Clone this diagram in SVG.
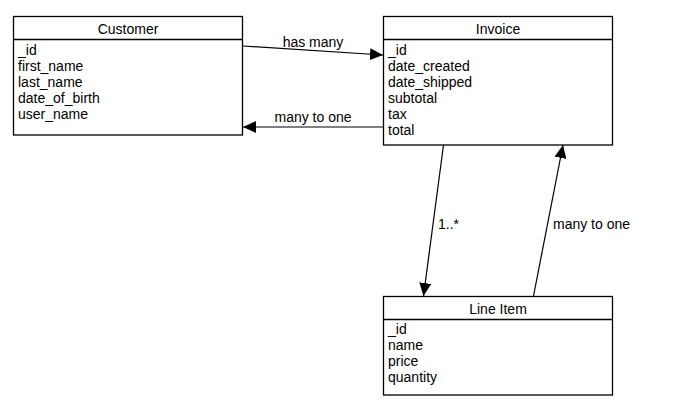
<svg xmlns="http://www.w3.org/2000/svg" width="677" height="414" viewBox="0 0 677 414">
<style>
.box{fill:#fff;stroke:#000;stroke-width:1.3}
.sep{stroke:#000;stroke-width:1.3}
text{font-family:"Liberation Sans",Arial,sans-serif;font-size:14px;fill:#000}
.t{text-anchor:middle}
.c{stroke:#000;stroke-width:1.2;fill:none;marker-end:url(#arr)}
</style>
<defs>
<marker id="arr" viewBox="0 0 13 12" refX="13" refY="6" markerWidth="13" markerHeight="12" markerUnits="userSpaceOnUse" orient="auto">
<path d="M0,0 L13,6 L0,12 Z" fill="#000"/>
</marker>
</defs>
<rect width="677" height="414" fill="#fff"/>
<g id="customer">
<rect class="box" x="13.5" y="16.5" width="229" height="118.5"/>
<line class="sep" x1="13.5" y1="39.5" x2="242.5" y2="39.5"/>
<text class="t" x="128" y="34">Customer</text>
<text x="18" y="55">_id</text>
<text x="18" y="71">first_name</text>
<text x="18" y="87">last_name</text>
<text x="18" y="103">date_of_birth</text>
<text x="18" y="119">user_name</text>
</g>
<g id="invoice">
<rect class="box" x="383.5" y="16.5" width="229" height="128.5"/>
<line class="sep" x1="383.5" y1="39.5" x2="612.5" y2="39.5"/>
<text class="t" x="498" y="34">Invoice</text>
<text x="388" y="55">_id</text>
<text x="388" y="71">date_created</text>
<text x="388" y="87">date_shipped</text>
<text x="388" y="103">subtotal</text>
<text x="388" y="119">tax</text>
<text x="388" y="135">total</text>
</g>
<g id="lineitem">
<rect class="box" x="383.5" y="296.5" width="229" height="98.5"/>
<line class="sep" x1="383.5" y1="319.5" x2="612.5" y2="319.5"/>
<text class="t" x="498" y="314">Line Item</text>
<text x="388" y="334">_id</text>
<text x="388" y="350">name</text>
<text x="388" y="366">price</text>
<text x="388" y="382">quantity</text>
</g>
<g id="connectors">
<line class="c" x1="243" y1="46" x2="383" y2="55"/>
<text class="t" x="313" y="47">has many</text>
<line class="c" x1="383" y1="127" x2="243" y2="127"/>
<text class="t" x="313" y="122">many to one</text>
<line class="c" x1="443.5" y1="145" x2="423.5" y2="296"/>
<text x="438" y="229">1..*</text>
<line class="c" x1="533.5" y1="296" x2="563" y2="145"/>
<text x="553" y="229">many to one</text>
</g>
</svg>
